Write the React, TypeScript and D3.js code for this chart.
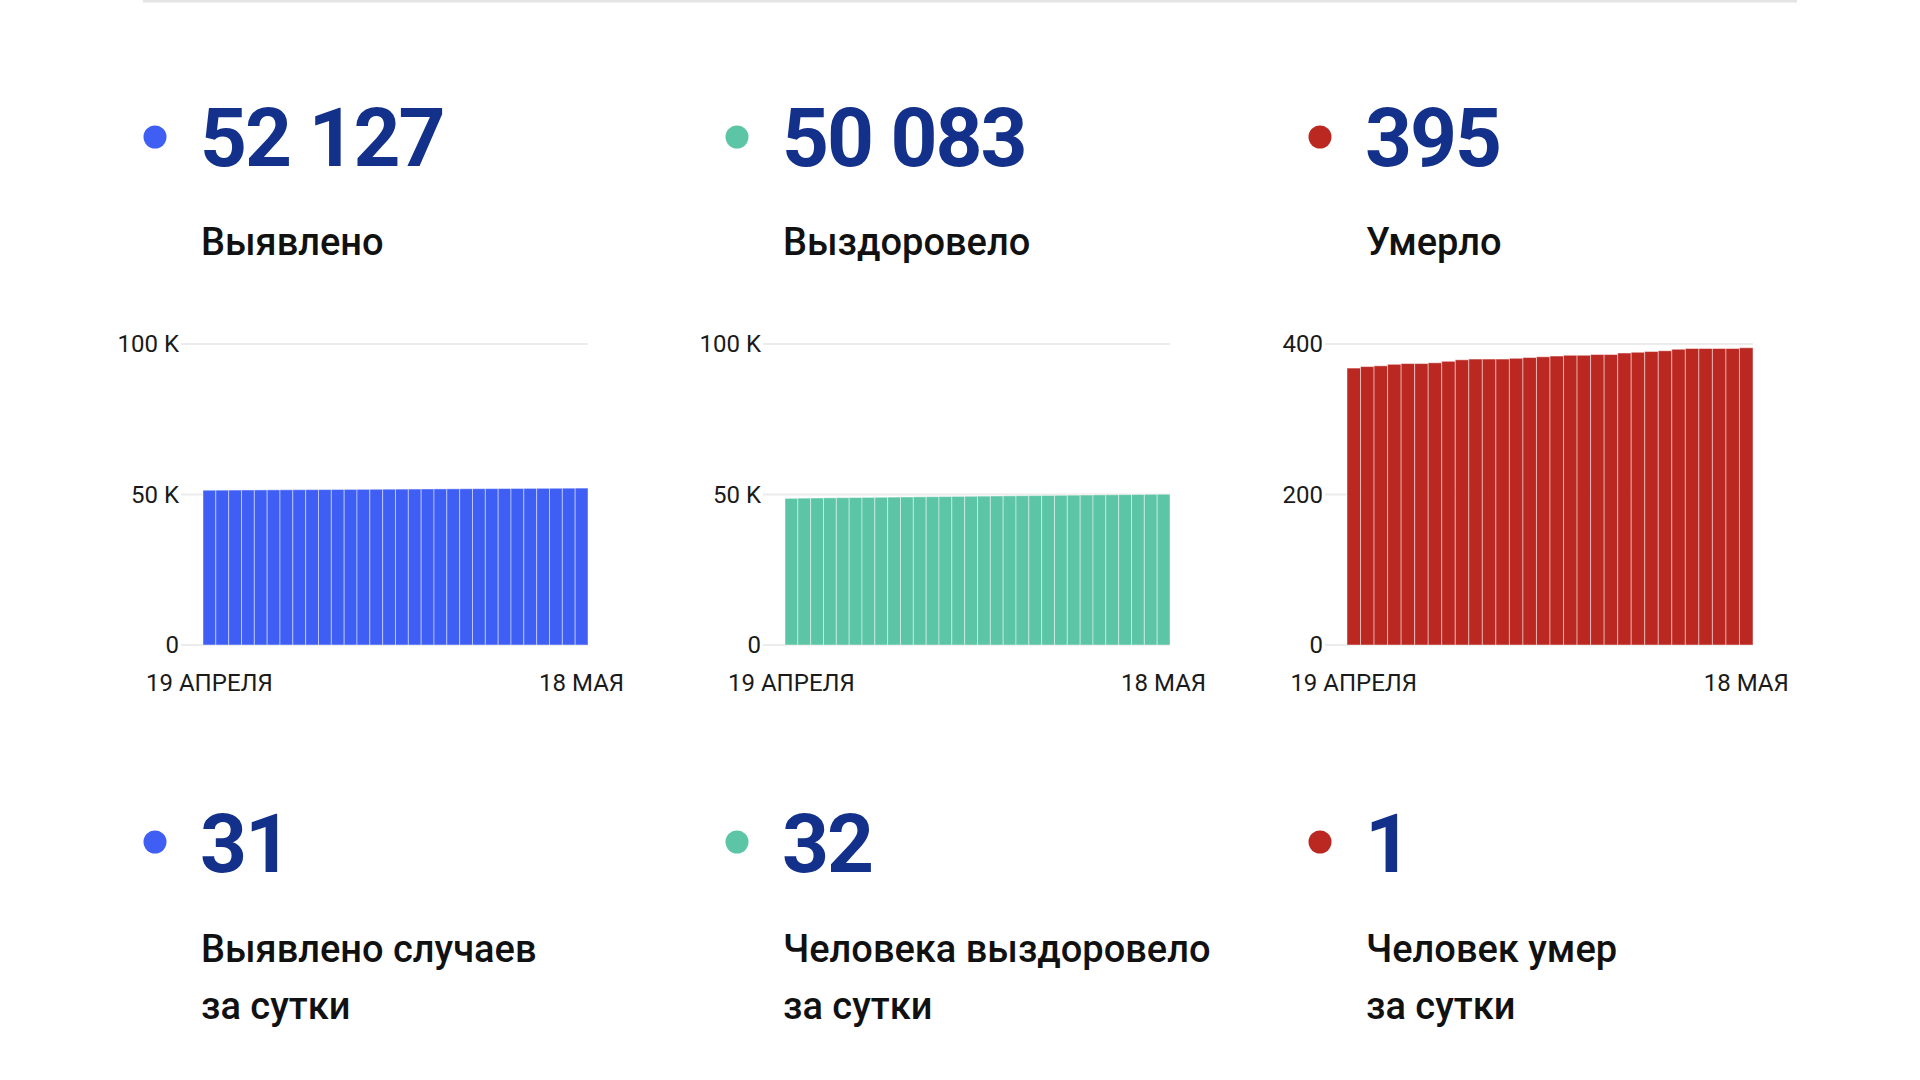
import React from "react";
import * as d3 from "d3";

// 19 апреля .. 18 мая, накопленным итогом
const days = d3.range(30).map((i) => `d${i + 1}`);

const casesTotal = [
  51420, 51445, 51470, 51494, 51519, 51543, 51566, 51590, 51615, 51640,
  51664, 51688, 51712, 51737, 51761, 51785, 51810, 51834, 51858, 51882,
  51906, 51930, 51955, 51979, 52003, 52028, 52052, 52074, 52096, 52127,
];
const recoveredTotal = [
  48720, 48790, 48840, 48890, 48940, 48990, 49030, 49080, 49130, 49180,
  49230, 49270, 49320, 49370, 49410, 49460, 49500, 49550, 49590, 49640,
  49690, 49730, 49780, 49820, 49870, 49910, 49950, 49995, 50051, 50083,
];
const deathsTotal = [
  368, 370, 371, 373, 374, 374, 375, 377, 379, 380, 380, 380, 381, 382, 383,
  384, 385, 385, 386, 386, 388, 389, 390, 391, 393, 394, 394, 394, 394, 395,
];

const headlineNumbers = ["52 127", "50 083", "395"];
const headlineLabels = ["Выявлено", "Выздоровело", "Умерло"];
const dailyNumbers = ["31", "32", "1"];
const dailyLabels = [
  ["Выявлено случаев", "за сутки"],
  ["Человека выздоровело", "за сутки"],
  ["Человек умер", "за сутки"],
];
const kTicks = [0, 50000, 100000];
const deathTicks = [0, 200, 400];
const dateLabels = ["19 АПРЕЛЯ", "18 МАЯ"];

const NAVY = "#13318a";
const FONT = "Roboto, 'Noto Sans', sans-serif";

const panels = [
  { dot: 155, plotLeft: 203, values: casesTotal, ticks: kTicks, max: 100000, color: "#3f5ef4", fmt: (v: number) => (v === 0 ? "0" : `${v / 1000} K`) },
  { dot: 737, plotLeft: 785, values: recoveredTotal, ticks: kTicks, max: 100000, color: "#5bc5a5", fmt: (v: number) => (v === 0 ? "0" : `${v / 1000} K`) },
  { dot: 1320, plotLeft: 1347, values: deathsTotal, ticks: deathTicks, max: 400, color: "#bb2822", fmt: (v: number) => `${v}` },
];

const PLOT_TOP = 344;
const PLOT_BOTTOM = 645;

const BarPanel = ({ p }: { p: (typeof panels)[number] }) => {
  const plotRight = p.dot + 433;
  const x = d3.scaleBand<string>().domain(days).range([p.plotLeft, plotRight]).padding(0);
  const y = d3.scaleLinear().domain([0, p.max]).range([PLOT_BOTTOM, PLOT_TOP]);
  return (
    <g>
      {p.ticks.map((t) => (
        <g key={t}>
          <line x1={p.plotLeft - 22} x2={plotRight} y1={y(t)} y2={y(t)} stroke="#ececec" strokeWidth={2} />
          <text x={p.plotLeft - 24} y={y(t)} dy="0.35em" textAnchor="end" fontSize={24} fill="#1a1a1a" fontFamily={FONT}>
            {p.fmt(t)}
          </text>
        </g>
      ))}
      {p.values.map((v, i) => (
        <rect
          key={i}
          x={x(days[i])}
          y={y(v)}
          width={x.bandwidth()}
          height={y(0) - y(v)}
          fill={p.color}
          stroke="rgba(255,255,255,0.45)"
          strokeWidth={1}
        />
      ))}
      <text x={x(days[0])! + x.bandwidth() / 2} y={691} textAnchor="middle" fontSize={24} fill="#1a1a1a" fontFamily={FONT}>
        {dateLabels[0]}
      </text>
      <text x={x(days[days.length - 1])! + x.bandwidth() / 2} y={691} textAnchor="middle" fontSize={24} fill="#1a1a1a" fontFamily={FONT}>
        {dateLabels[1]}
      </text>
    </g>
  );
};

export default function App() {
  return (
    <svg width={1920} height={1080} style={{ position: "absolute", left: 0, top: 0, background: "#fff" }}>
      <rect x={143} y={0} width={1654} height={2.5} fill="#e4e4e4" />
      {panels.map((p, i) => (
        <g key={i}>
          <circle cx={p.dot} cy={137} r={11.5} fill={p.color} />
          <text x={p.dot + 45} y={166} fontSize={82} fontWeight={700} fill={NAVY} fontFamily={FONT} letterSpacing={-2}>
            {headlineNumbers[i]}
          </text>
          <text x={p.dot + 46} y={255} fontSize={38} fontWeight={500} fill="#111" fontFamily={FONT}>
            {headlineLabels[i]}
          </text>
          <BarPanel p={p} />
          <circle cx={p.dot} cy={842} r={11.5} fill={p.color} />
          <text x={p.dot + 45} y={872} fontSize={82} fontWeight={700} fill={NAVY} fontFamily={FONT} letterSpacing={-2}>
            {dailyNumbers[i]}
          </text>
          {dailyLabels[i].map((line, j) => (
            <text key={j} x={p.dot + 46} y={962 + j * 57} fontSize={38} fontWeight={500} fill="#111" fontFamily={FONT}>
              {line}
            </text>
          ))}
        </g>
      ))}
    </svg>
  );
}
